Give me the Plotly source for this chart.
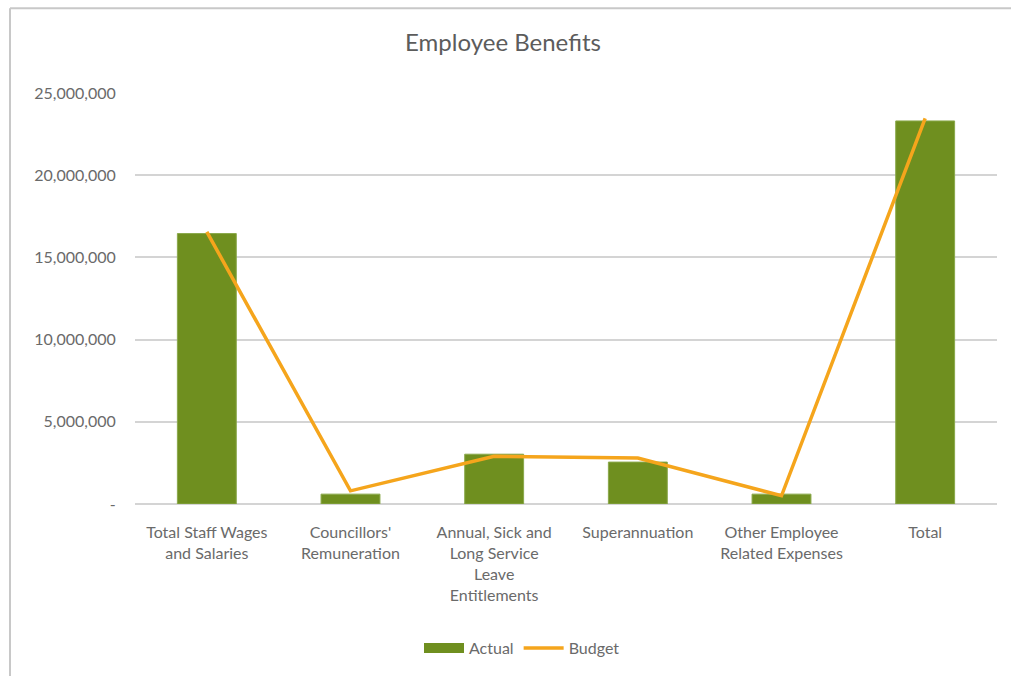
import plotly.graph_objects as go

categories = [
    "Total Staff Wages<br>and Salaries",
    "Councillors'<br>Remuneration",
    "Annual, Sick and<br>Long Service<br>Leave<br>Entitlements",
    "Superannuation",
    "Other Employee<br>Related Expenses",
    "Total",
]
actual = [16450000, 600000, 3030000, 2550000, 600000, 23300000]
budget = [16550000, 800000, 2900000, 2800000, 500000, 23450000]

tick_vals = [0, 5000000, 10000000, 15000000, 20000000, 25000000]
tick_text = ["-", "5,000,000", "10,000,000", "15,000,000", "20,000,000", "25,000,000"]

font_family = "Lato, 'Open Sans', sans-serif"
text_grey = "#6a6a6a"
bar_green = "#6f8f1f"

fig = go.Figure()
fig.add_trace(go.Bar(
    x=categories, y=actual, name="Actual", showlegend=False,
    marker=dict(color=bar_green, line=dict(color="#8aa84a", width=1)),
    width=0.41,
))
fig.add_trace(go.Scatter(
    x=categories, y=budget, name="Budget", mode="lines", showlegend=False,
    line=dict(color="#f5a51c", width=3.5),
))
# legend entries: wide swatch for the bars, line for the budget
fig.add_trace(go.Scatter(
    x=[None], y=[None], name="Actual", mode="lines",
    line=dict(color=bar_green, width=11),
))
fig.add_trace(go.Scatter(
    x=[None], y=[None], name="Budget", mode="lines",
    line=dict(color="#f5a51c", width=3.5),
))

# chart frame (left and top edges)
plot_l, plot_r, plot_t, plot_b = 135, 997, 93, 505
pw, ph = plot_r - plot_l, plot_b - plot_t
def px(x):
    return (x - plot_l) / pw
def py(y):
    return (plot_b - y) / ph
frame = dict(color="#c8c8c8", width=2)
fig.add_shape(type="line", xref="paper", yref="paper",
              x0=px(10), x1=px(10), y0=py(8), y1=py(700), line=frame)
fig.add_shape(type="line", xref="paper", yref="paper",
              x0=px(10), x1=px(1015), y0=py(8), y1=py(8), line=frame)

fig.update_layout(
    width=1011, height=676,
    margin=dict(l=plot_l, r=1011 - plot_r, t=plot_t, b=676 - plot_b),
    paper_bgcolor="white", plot_bgcolor="white",
    font=dict(family=font_family, color=text_grey, size=16),
    title=dict(text="Employee Benefits", x=503 / 1011, xref="container", xanchor="center",
               y=1 - 43 / 676, yanchor="middle",
               font=dict(size=24, color="#5c5c5c", family=font_family)),
    bargap=0.59,
    showlegend=True,
    legend=dict(orientation="h", x=px(522), xref="paper", xanchor="center",
                y=py(648), yanchor="middle", font=dict(size=16, color=text_grey),
                itemwidth=40, traceorder="normal"),
    xaxis=dict(showgrid=False, showline=False, tickfont=dict(size=16),
               ticks="outside", ticklen=14, tickcolor="rgba(0,0,0,0)",
               tickangle=0, automargin=False),
    yaxis=dict(range=[0, 25000000], tickvals=tick_vals, ticktext=tick_text,
               showgrid=True, gridcolor="#d4d4d4", gridwidth=2,
               zeroline=True, zerolinecolor="#d4d4d4", zerolinewidth=2,
               showline=False, ticks="outside", ticklen=15, tickcolor="rgba(0,0,0,0)",
               tickfont=dict(size=16), automargin=False),
)

fig.write_html("out.html")
